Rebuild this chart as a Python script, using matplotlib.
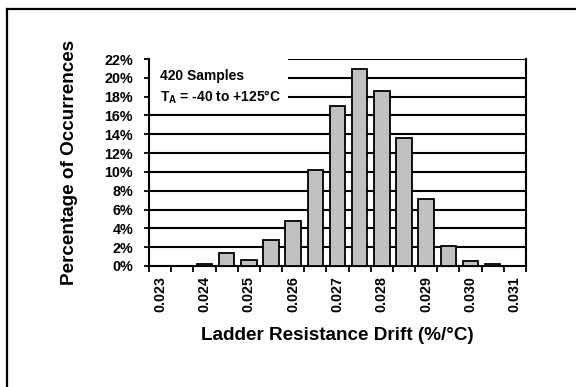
import matplotlib
matplotlib.use("Agg")
import matplotlib.pyplot as plt
from matplotlib.patches import Rectangle
from matplotlib.lines import Line2D

plt.rcParams['font.family'] = ['Liberation Sans', 'DejaVu Sans']
plt.rcParams['font.weight'] = 'bold'
plt.rcParams['mathtext.fontset'] = 'custom'
plt.rcParams['mathtext.rm'] = 'Liberation Sans:bold'
plt.rcParams['mathtext.it'] = 'Liberation Sans:bold'
plt.rcParams['mathtext.bf'] = 'Liberation Sans:bold'

# Histogram bins (%/°C) and percentage of the 420 samples in each bin
bins = ["0.023", "0.0235", "0.024", "0.0245", "0.025", "0.0255", "0.026", "0.0265",
        "0.027", "0.0275", "0.028", "0.0285", "0.029", "0.0295", "0.030", "0.0305", "0.031"]
percent = [0, 0, 0.24, 1.35, 0.68, 2.8, 4.75, 10.2, 17.05, 20.9, 18.55, 13.6, 7.1,
           2.15, 0.48, 0.24, 0]
tick_labels = ["0.023", "0.024", "0.025", "0.026", "0.027", "0.028", "0.029", "0.030", "0.031"]
y_ticks = list(range(0, 23, 2))

fig = plt.figure(figsize=(5.76, 3.87), dpi=100)
ax = fig.add_axes([0.2587, 0.3127, 0.913 - 0.2587, 0.8475 - 0.3127])

x = list(range(len(bins)))
ax.bar(x, percent, width=0.7, color='#C0C0C0', edgecolor='black', linewidth=1.3, zorder=3)

ax.set_xlim(-0.5, len(bins) - 0.5)
ax.set_ylim(0, 22)

# gridlines
for yv in y_ticks[1:]:
    ax.axhline(yv, color='black', linewidth=1.5, zorder=1)

ax.set_yticks(y_ticks)
ax.set_yticklabels([f"{v}%" for v in y_ticks], fontsize=10.3, fontweight='bold')
ax.tick_params(axis='y', direction='inout', length=7, width=1.3, pad=8)

# category boundaries as ticks, labels every other bin
ax.set_xticks([i - 0.5 for i in range(len(bins) + 1)])
ax.set_xticklabels([])
ax.tick_params(axis='x', direction='out', length=4, width=1.3)
for i, b in enumerate(bins):
    if b in tick_labels:
        ax.text(i, -1.1, b, rotation=90, ha='center', va='top', fontsize=10.3,
                fontweight='bold')

ax.spines['top'].set_visible(False)
for s in ['left', 'bottom', 'right']:
    ax.spines[s].set_linewidth(1.5)
    ax.spines[s].set_color('black')

# white box behind the annotation
ax.add_patch(Rectangle((-0.45, 17.0), 6.2, 5.6, facecolor='white', edgecolor='none',
                       zorder=2, clip_on=False))
ax.text(0.0, 20.2, "420 Samples", fontsize=10, fontweight='bold', va='center', zorder=4)
ax.text(0.0, 17.9, r"T$_\mathrm{A}$ = -40 to +125°C", fontsize=10, fontweight='bold',
        va='center', zorder=4)

fig.text(0.12, 0.581, "Percentage of Occurrences", rotation=90, ha='center', va='center',
         fontsize=13.6, fontweight='bold')
fig.text(0.5859, 0.132, "Ladder Resistance Drift (%/°C)", ha='center', va='center',
         fontsize=13.6, fontweight='bold')

# outer frame (top and left edges)
fig.add_artist(Line2D([7 / 576, 7 / 576], [0, 1 - 9 / 387], color='black', linewidth=1.6))
fig.add_artist(Line2D([7 / 576, 1], [1 - 9 / 387, 1 - 9 / 387], color='black', linewidth=1.6))

fig.savefig("out.png", dpi=100)
